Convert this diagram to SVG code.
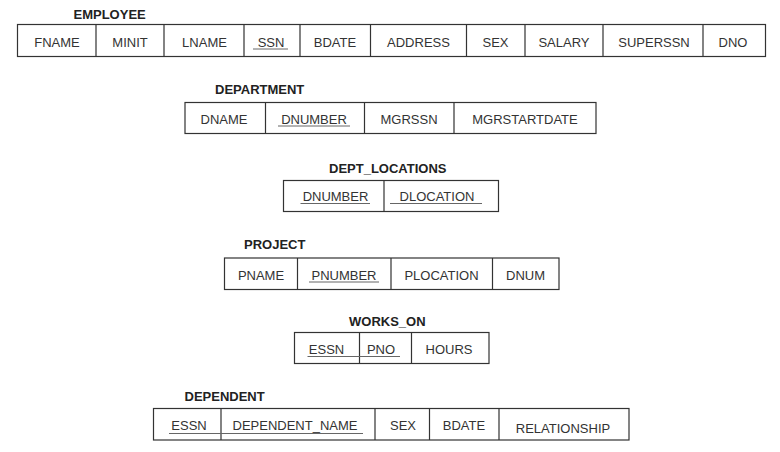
<svg xmlns="http://www.w3.org/2000/svg" width="780" height="452" viewBox="0 0 780 452">
<style>
.bg{fill:#ffffff}
.tbl{fill:none;stroke:#333;stroke-width:1.2}
.div{stroke:#333;stroke-width:1.2}
.ul{stroke:#666;stroke-width:1}
.title{font-family:"Liberation Sans",Arial,sans-serif;font-size:13px;font-weight:bold;fill:#222}
.cell{font-family:"Liberation Sans",Arial,sans-serif;font-size:13px;fill:#333;text-anchor:middle}
</style>
<rect class="bg" x="0" y="0" width="780" height="452"/>

<g id="employee">
<text class="title" x="73.5" y="18.5">EMPLOYEE</text>
<rect class="tbl" x="17.5" y="24.5" width="748" height="32"/>
<path class="div" d="M96 24.5V56.5M164 24.5V56.5M244 24.5V56.5M300 24.5V56.5M370.5 24.5V56.5M466.5 24.5V56.5M525 24.5V56.5M603 24.5V56.5M703 24.5V56.5"/>
<text class="cell" x="57" y="46.5">FNAME</text>
<text class="cell" x="130" y="46.5">MINIT</text>
<text class="cell" x="204.5" y="46.5">LNAME</text>
<text class="cell" x="271" y="46.5">SSN</text>
<text class="cell" x="335" y="46.5">BDATE</text>
<text class="cell" x="418.5" y="46.5">ADDRESS</text>
<text class="cell" x="495.5" y="46.5">SEX</text>
<text class="cell" x="564" y="46.5">SALARY</text>
<text class="cell" x="654" y="46.5">SUPERSSN</text>
<text class="cell" x="733" y="46.5">DNO</text>
<path class="ul" d="M253 49H288"/>
</g>

<g id="department">
<text class="title" x="215" y="94">DEPARTMENT</text>
<rect class="tbl" x="185" y="102.5" width="411" height="31"/>
<path class="div" d="M265.5 102.5V133.5M364.5 102.5V133.5M454 102.5V133.5"/>
<text class="cell" x="224" y="123.5">DNAME</text>
<text class="cell" x="314" y="123.5">DNUMBER</text>
<text class="cell" x="409" y="123.5">MGRSSN</text>
<text class="cell" x="525" y="123.5">MGRSTARTDATE</text>
<path class="ul" d="M278 126H350"/>
</g>

<g id="dept_locations">
<text class="title" x="329" y="172.5">DEPT_LOCATIONS</text>
<rect class="tbl" x="283.5" y="180.5" width="215" height="31"/>
<path class="div" d="M384 180.5V211.5"/>
<text class="cell" x="335.5" y="201">DNUMBER</text>
<text class="cell" x="437" y="201">DLOCATION</text>
<path class="ul" d="M300.5 203.5H370M390 203.5H482"/>
</g>

<g id="project">
<text class="title" x="244" y="249">PROJECT</text>
<rect class="tbl" x="224.5" y="258" width="334.5" height="31.5"/>
<path class="div" d="M297.5 258V289.5M391 258V289.5M492.5 258V289.5"/>
<text class="cell" x="261" y="279.5">PNAME</text>
<text class="cell" x="344" y="279.5">PNUMBER</text>
<text class="cell" x="441.5" y="279.5">PLOCATION</text>
<text class="cell" x="525.5" y="279.5">DNUM</text>
<path class="ul" d="M309 282H379"/>
</g>

<g id="works_on">
<text class="title" x="349" y="325.5">WORKS_ON</text>
<rect class="tbl" x="294.5" y="332.5" width="194.5" height="31"/>
<path class="div" d="M359.5 332.5V363.5M411.5 332.5V363.5"/>
<text class="cell" x="326.5" y="353.5">ESSN</text>
<text class="cell" x="381" y="353.5">PNO</text>
<text class="cell" x="449" y="353.5">HOURS</text>
<path class="ul" d="M307.5 356.5H400"/>
</g>

<g id="dependent">
<text class="title" x="184.5" y="401">DEPENDENT</text>
<rect class="tbl" x="153.5" y="408.5" width="475.5" height="31.5"/>
<path class="div" d="M221 408.5V440M375 408.5V440M429.5 408.5V440M499 408.5V440"/>
<text class="cell" x="189" y="430">ESSN</text>
<text class="cell" x="295" y="430">DEPENDENT_NAME</text>
<text class="cell" x="403" y="430">SEX</text>
<text class="cell" x="464" y="430">BDATE</text>
<text class="cell" x="563" y="432.5">RELATIONSHIP</text>
<path class="ul" d="M169 433.5H363"/>
</g>

<g id="connectors"></g>
</svg>
